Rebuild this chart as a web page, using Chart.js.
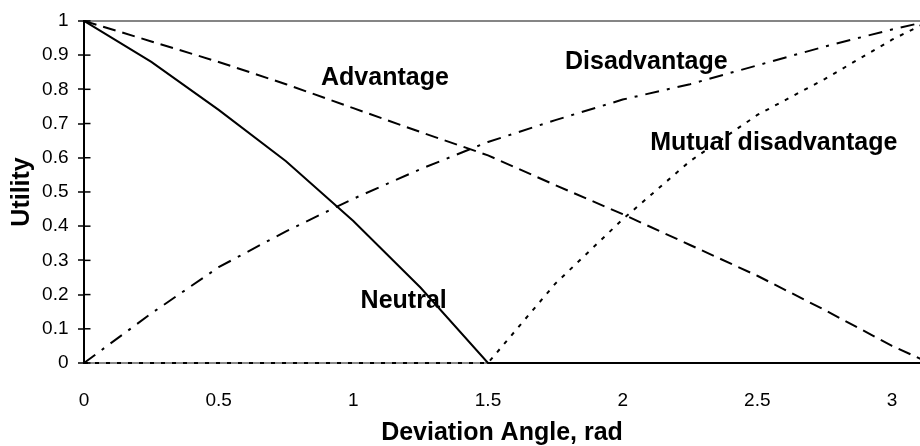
<!DOCTYPE html>
<html>
<head>
<meta charset="utf-8">
<script src="https://cdn.jsdelivr.net/npm/chart.js@4/dist/chart.umd.min.js"></script>
<style>
  html, body { margin: 0; padding: 0; background: #fff; }
  .box { width: 920px; height: 446px; position: relative; }
</style>
</head>
<body>
<div class="box"><canvas id="myChart"></canvas></div>
<script>
// deviation angle (rad) where the curves were read
const angles = [0, 0.25, 0.5, 0.75, 1, 1.25, 1.5, 1.75, 2, 2.25, 2.5, 2.75, 3, 3.14];

const neutral = [1, 0.88, 0.74, 0.59, 0.415, 0.22, 0, 0, 0, 0, 0, 0, 0, 0];
const advantage = [1, 0.94, 0.88, 0.815, 0.745, 0.675, 0.607, 0.52, 0.435, 0.345, 0.255, 0.155, 0.05, 0];
const disadvantage = [0, 0.145, 0.28, 0.385, 0.48, 0.567, 0.646, 0.71, 0.77, 0.815, 0.87, 0.925, 0.975, 1];
const mutual = [0, 0, 0, 0, 0, 0, 0, 0.232, 0.42, 0.59, 0.725, 0.83, 0.945, 1];

const seriesNames = ["Neutral", "Advantage", "Disadvantage", "Mutual disadvantage"];
// where each curve name sits, in axis units (left edge, middle)
const namePos = [[1.027, 0.182], [0.88, 0.832], [1.786, 0.879], [2.102, 0.644]];

const FONT = '"Liberation Sans", Arial, Helvetica, sans-serif';

const toPoints = (vals) => vals.map((v, i) => ({ x: angles[i], y: v }));
const plainNum = (v) => String(Math.round(v * 100) / 100);

const lineStyle = (label, vals, dash) => ({
  label: label,
  data: toPoints(vals),
  borderColor: "#000",
  borderWidth: 2,
  borderDash: dash,
  pointRadius: 0,
  tension: 0,
  fill: false,
  clip: { left: 4, top: 4, right: 0, bottom: 4 },
});

const extras = {
  id: "extras",
  beforeDatasetsDraw(chart) {
    const { ctx, scales: { x, y } } = chart;
    ctx.save();
    ctx.font = "bold 25px " + FONT;
    ctx.fillStyle = "#000";
    ctx.textBaseline = "middle";
    ctx.textAlign = "left";
    seriesNames.forEach((n, i) => {
      ctx.fillText(n, x.getPixelForValue(namePos[i][0]), y.getPixelForValue(namePos[i][1]));
    });
    ctx.restore();
  },
  afterDraw(chart) {
    // y tick marks cross the axis, draw the inner half
    const { ctx, scales: { y } } = chart;
    ctx.save();
    ctx.strokeStyle = "#000";
    ctx.lineWidth = 1.5;
    y.ticks.forEach((t) => {
      const py = y.getPixelForValue(t.value);
      ctx.beginPath();
      ctx.moveTo(y.right, py);
      ctx.lineTo(y.right + 6.5, py);
      ctx.stroke();
    });
    ctx.restore();
  },
};

new Chart(document.getElementById("myChart"), {
  type: "line",
  data: {
    datasets: [
      lineStyle("Mutual disadvantage", mutual, [4, 7]),
      lineStyle("Disadvantage", disadvantage, [14, 8, 3, 8]),
      lineStyle("Advantage", advantage, [13, 7]),
      lineStyle("Neutral", neutral, []),
    ],
  },
  options: {
    responsive: true,
    maintainAspectRatio: false,
    animation: false,
    layout: { padding: { top: 16.5, right: 0, bottom: 0, left: 0 } },
    plugins: {
      legend: { display: false },
      tooltip: { enabled: false },
    },
    scales: {
      x: {
        type: "linear",
        min: 0,
        max: 3.104,
        afterFit: (scale) => { scale.height = 83; },
        grid: { display: false },
        border: { display: true, color: "#8a8a8a", width: 2 },
        ticks: {
          stepSize: 0.5,
          includeBounds: false,
          color: "#000",
          padding: 18.5,
          maxRotation: 0,
          font: { family: FONT, size: 19 },
          callback: plainNum,
        },
        title: {
          display: true,
          text: "Deviation Angle, rad",
          color: "#000",
          padding: { top: 0, bottom: 0 },
          font: { family: FONT, size: 25, weight: "bold", lineHeight: 1 },
        },
      },
      y: {
        min: 0,
        max: 1,
        afterFit: (scale) => { scale.width = 84; },
        grid: {
          drawOnChartArea: true,
          color: (c) => (c.tick && c.tick.value === 1 ? "#858585" : "rgba(0,0,0,0)"),
          lineWidth: 2,
          tickColor: "#000",
          tickWidth: 1.5,
          tickLength: 6,
        },
        border: { display: true, color: "#000", width: 2 },
        ticks: {
          stepSize: 0.1,
          color: "#000",
          padding: 9.5,
          font: { family: FONT, size: 19 },
          callback: plainNum,
        },
        title: {
          display: true,
          text: "Utility",
          color: "#000",
          padding: { top: 9.5, bottom: 0 },
          font: { family: FONT, size: 25, weight: "bold", lineHeight: 1 },
        },
      },
    },
  },
  plugins: [extras],
});
</script>
</body>
</html>
